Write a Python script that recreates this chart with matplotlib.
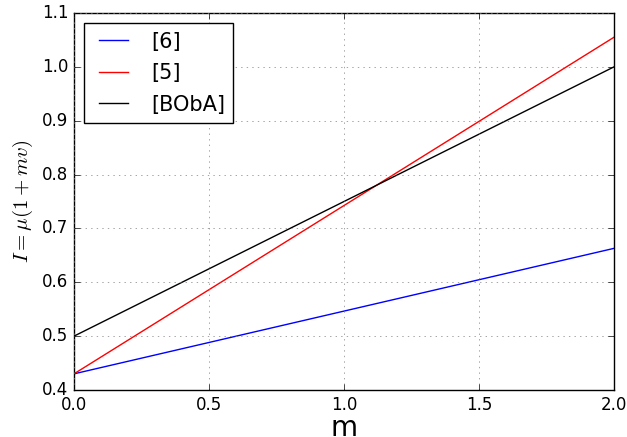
import numpy as np
import matplotlib
matplotlib.use('Agg')
import matplotlib.pyplot as plt

plt.style.use('classic')

# line endpoints
m = [0.0, 2.0]
ref6 = [0.43, 0.663]
ref5 = [0.43, 1.055]
boba = [0.5, 1.0]

fig = plt.figure(figsize=(6.27, 4.37), dpi=100)
ax = fig.add_axes([74/627, 1 - 390/437, 540/627, 377/437])
ax.plot(m, ref6, color='b', label='[6]')
ax.plot(m, ref5, color='r', label='[5]')
ax.plot(m, boba, color='k', label='[BObA]')
ax.set_xlim(0, 2)
ax.set_ylim(0.4, 1.1)
ax.grid(True, color='0.5')
ax.set_xlabel('m', fontsize=20, labelpad=0)
ax.set_ylabel(r'$I = \mu(1+mv)$', fontsize=15)
ax.legend(loc='upper left', fontsize=15, labelspacing=0.55)
fig.savefig('out.png', dpi=100)
